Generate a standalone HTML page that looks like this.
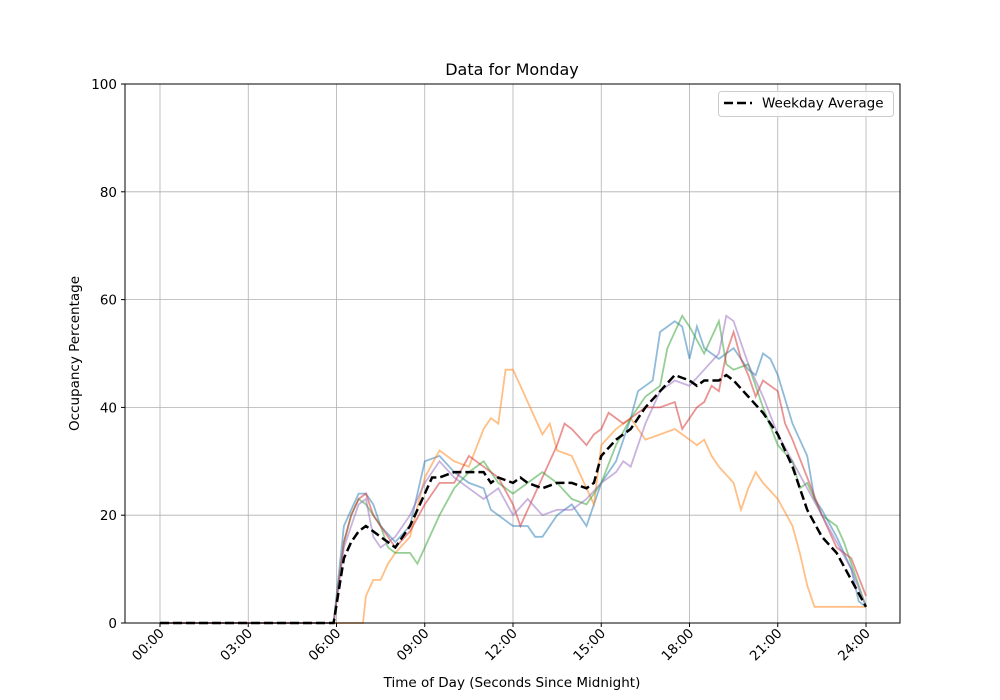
<!DOCTYPE html>
<html><head><meta charset="utf-8"><style>
body{margin:0;background:#fff}
svg{display:block}
text{font-family:"DejaVu Sans","Liberation Sans",sans-serif;fill:#000}
</style></head><body>
<svg id="s" width="1000" height="700" viewBox="0 0 1000 700">
<rect width="1000" height="700" fill="#fff"/>
<g id="grid"></g>
<g id="series"></g>
<rect x="125" y="84" width="775" height="539" fill="none" stroke="#000" stroke-width="1"/>
<g id="ticks"></g>
<text x="512" y="75" font-size="16" text-anchor="middle">Data for Monday</text>
<text x="512" y="687" font-size="13.5" text-anchor="middle">Time of Day (Seconds Since Midnight)</text>
<text transform="translate(79,353.5) rotate(-90)" font-size="13.5" text-anchor="middle">Occupancy Percentage</text>
<rect x="718.5" y="91.5" width="175" height="25" rx="3" fill="#fff" fill-opacity="0.8" stroke="#ccc"/>
<line x1="724" y1="103" x2="752" y2="103" stroke="#000" stroke-width="2.5" stroke-dasharray="9,4"/>
<text x="762" y="107.5" font-size="13.5">Weekday Average</text>
</svg>
<script>
const X=h=>160+h*29.417, Y=v=>623-v*5.39;
const ns="http://www.w3.org/2000/svg";
function el(p,t,a,txt){const e=document.createElementNS(ns,t);for(const k in a)e.setAttribute(k,a[k]);if(txt!=null)e.textContent=txt;document.getElementById(p).appendChild(e);return e;}
for(let h=0;h<=24;h+=3){el("grid","line",{x1:X(h),x2:X(h),y1:84,y2:623,stroke:"#b0b0b0","stroke-width":0.8});
 el("ticks","line",{x1:X(h),x2:X(h),y1:623,y2:627,stroke:"#000"});
 const lab=String(h).padStart(2,"0")+":00";
 el("ticks","text",{transform:`translate(${X(h)+5},${634}) rotate(-45)`,"font-size":13.5,"text-anchor":"end"},lab);}
for(let v=0;v<=100;v+=20){el("grid","line",{x1:125,x2:900,y1:Y(v),y2:Y(v),stroke:"#b0b0b0","stroke-width":0.8});
 el("ticks","line",{x1:121,x2:125,y1:Y(v),y2:Y(v),stroke:"#000"});
 el("ticks","text",{x:117,y:Y(v)+5,"font-size":13.5,"text-anchor":"end"},v);}
const S=[
["#1f77b4",[0,0,5.9,0,6.25,18,6.5,21,6.75,24,7,24,7.25,22,7.5,18,8,15,8.5,18,9,30,9.5,31,10,28,10.5,26,11,25,11.25,21,11.5,20,12,18,12.5,18,12.75,16,13,16,13.5,20,14,22,14.5,18,14.75,22,15,26,15.5,30,16,38,16.25,43,16.5,44,16.75,45,17,54,17.25,55,17.5,56,17.75,55,18,49,18.25,55,18.5,51,19,49,19.5,51,20,47,20.25,46,20.5,50,20.75,49,21,46,21.5,37,22,31,22.25,23,22.5,21,23,16,23.5,10,23.75,4,24,3]],
["#ff7f0e",[0,0,6.9,0,7,5,7.25,8,7.5,8,7.75,11,8,13,8.5,16,9,27,9.5,32,10,30,10.5,29,11,36,11.25,38,11.5,37,11.75,47,12,47,12.25,44,12.5,41,13,35,13.25,37,13.5,32,14,31,14.5,25,14.75,22,15,33,15.5,36,16,38,16.5,34,17,35,17.5,36,17.75,35,18,34,18.25,33,18.5,34,18.75,31,19,29,19.5,26,19.75,21,20,25,20.25,28,20.5,26,21,23,21.5,18,21.75,13,22,7,22.25,3,23.75,3,24,3]],
["#2ca02c",[0,0,5.9,0,6.25,15,6.5,20,6.75,23,7,22,7.5,18,7.75,14,8,13,8.5,13,8.75,11,9,14,9.5,20,10,25,10.5,28,11,30,11.5,26,12,24,12.5,26,13,28,13.5,26,14,23,14.5,22,15,26,15.5,33,16,38,16.5,42,17,44,17.25,51,17.75,57,18,55,18.5,50,18.75,53,19,56,19.25,48,19.5,47,20,48,20.5,40,21,33,21.5,30,21.75,25,22,26,22.5,20,23,18,23.25,15,23.5,11,24,3]],
["#d62728",[0,0,5.9,0,6.25,15,6.5,20,6.75,23,7,24,7.25,20,7.5,18,8,14,8.5,17,9,22,9.5,26,10,26,10.5,31,11,29,11.5,27,12,22,12.25,18,12.5,21,13,27,13.5,33,13.75,37,14,36,14.5,33,14.75,35,15,36,15.25,39,15.75,37,16,38,16.5,40,17,40,17.5,41,17.75,36,18,38,18.25,40,18.5,41,18.75,44,19,43,19.25,50,19.5,54,19.75,49,20,46,20.25,42,20.5,45,21,43,21.25,37,21.5,34,22,27,22.5,20,23,14,23.5,12,24,5]],
["#9467bd",[0,0,5.9,0,6.25,14,6.5,18,6.75,22,7,23,7.25,16,7.5,14,8,16,8.5,20,9,26,9.5,30,10,27,10.5,25,11,23,11.5,25,12,20,12.5,23,13,20,13.5,21,14,21,14.5,23,15,26,15.5,28,15.75,30,16,29,16.5,37,17,43,17.5,45,18,44,18.5,47,19,50,19.25,57,19.5,56,20,48,20.5,42,21,35,21.5,30,22,25,22.5,20,23,15,23.5,10,24,3]]];
const pts=a=>{let r=[];for(let i=0;i<a.length;i+=2)r.push(X(a[i]).toFixed(1)+","+Y(a[i+1]).toFixed(1));return r.join(" ");};
S.forEach(([c,a])=>el("series","polyline",{points:pts(a),fill:"none",stroke:c,"stroke-opacity":0.5,"stroke-width":1.8}));
const avg=[0,0,5.9,0,6.25,12,6.5,15,6.75,17,7,18,7.25,17,7.5,16,8,14,8.5,18,9,24,9.25,27,9.5,27,10,28,10.5,28,11,28,11.25,26,11.5,27,12,26,12.25,27,12.5,26,13,25,13.5,26,14,26,14.5,25,14.75,26,15,31,15.5,34,16,36,16.5,40,17,43,17.5,46,18,45,18.25,44,18.5,45,19,45,19.25,46,19.5,45,20,42,20.5,39,21,35,21.5,29,22,21,22.5,16,23,13,23.5,8,24,3];
el("series","polyline",{points:pts(avg),fill:"none",stroke:"#000","stroke-width":2.5,"stroke-dasharray":"9,4"});
</script>
</body></html>
